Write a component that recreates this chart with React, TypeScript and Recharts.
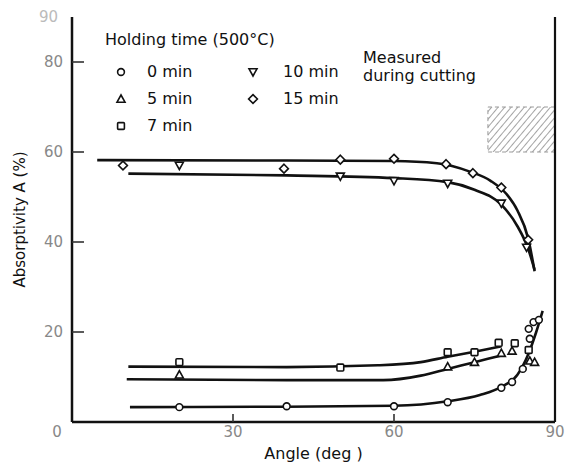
import React from 'react';
import { ComposedChart, Line, Scatter, XAxis, YAxis, ReferenceArea } from 'recharts';

// ---- data ----
const xTicks = [0, 30, 60, 90];
const yTicks = [20, 40, 60, 80, 90];
const xTickMarks = [30, 60];
const yTickMarks = [20, 40, 60, 80];

// fitted curves (angle, absorptivity)
const curve0 = [
  { x: 10.8, y: 3.3 }, { x: 40, y: 3.4 }, { x: 60, y: 3.6 }, { x: 70, y: 4.6 }, { x: 76, y: 6.0 },
  { x: 80, y: 7.8 }, { x: 83, y: 10.5 }, { x: 85, y: 15.0 }, { x: 86.5, y: 20.0 }, { x: 87.7, y: 24.7 },
];
const curve5 = [
  { x: 10.2, y: 9.5 }, { x: 40, y: 9.3 }, { x: 58, y: 9.3 }, { x: 65, y: 10.3 }, { x: 70, y: 11.8 },
  { x: 75, y: 13.3 }, { x: 80, y: 14.8 },
];
const curve7 = [
  { x: 10.5, y: 12.3 }, { x: 40, y: 12.2 }, { x: 57, y: 12.6 }, { x: 65, y: 13.3 }, { x: 70, y: 14.5 },
  { x: 75, y: 15.6 }, { x: 80, y: 16.8 },
];
const curve10 = [
  { x: 10.5, y: 55.2 }, { x: 40, y: 54.8 }, { x: 60, y: 54.2 }, { x: 70, y: 53.3 }, { x: 75, y: 51.6 },
  { x: 80, y: 48.3 }, { x: 83, y: 43.5 }, { x: 85, y: 38.5 }, { x: 86.2, y: 33.8 },
];
const curve15 = [
  { x: 4.7, y: 58.2 }, { x: 40, y: 58.1 }, { x: 60, y: 58.0 }, { x: 68, y: 57.5 }, { x: 74, y: 55.7 },
  { x: 78, y: 53.6 }, { x: 81, y: 50.6 }, { x: 83, y: 47.0 }, { x: 85, y: 40.8 }, { x: 86.2, y: 33.5 },
];

// measured points
const pts0 = [
  { x: 20, y: 3.3 }, { x: 40, y: 3.5 }, { x: 60, y: 3.5 }, { x: 70, y: 4.4 }, { x: 80, y: 7.6 },
  { x: 82, y: 8.9 }, { x: 84, y: 11.8 }, { x: 85.3, y: 18.5 }, { x: 85.1, y: 20.7 }, { x: 86, y: 22.2 },
  { x: 87, y: 22.7 },
];
const pts5 = [
  { x: 20, y: 10.5 }, { x: 70, y: 12.3 }, { x: 75, y: 13.3 }, { x: 80, y: 15.3 }, { x: 82, y: 15.8 },
  { x: 85.3, y: 13.6 }, { x: 86.2, y: 13.3 },
];
const pts7 = [
  { x: 20, y: 13.3 }, { x: 50, y: 12.1 }, { x: 70, y: 15.5 }, { x: 75, y: 15.5 }, { x: 79.5, y: 17.6 },
  { x: 82.5, y: 17.5 }, { x: 85.1, y: 16.0 },
];
const pts10 = [
  { x: 20, y: 57.0 }, { x: 50, y: 54.6 }, { x: 60, y: 53.6 }, { x: 70, y: 53.0 }, { x: 80, y: 48.6 },
  { x: 84.7, y: 38.8 },
];
const pts15 = [
  { x: 9.5, y: 57.0 }, { x: 39.5, y: 56.3 }, { x: 50, y: 58.3 }, { x: 60, y: 58.5 }, { x: 69.7, y: 57.3 },
  { x: 74.7, y: 55.3 }, { x: 80, y: 52.1 }, { x: 85, y: 40.5 },
];

// hatched "measured during cutting" region
const cutX = [77.5, 90];
const cutY = [60, 70];

const legendLeft = [
  { kind: 'circle', label: '0 min' },
  { kind: 'triangle', label: '5 min' },
  { kind: 'square', label: '7 min' },
];
const legendRight = [
  { kind: 'down', label: '10 min' },
  { kind: 'diamond', label: '15 min' },
];

// ---- drawing helpers ----
const FONT = '"DejaVu Sans", "Liberation Sans", sans-serif';

function markerPath(kind: string, cx: number, cy: number, s: number) {
  const st = { fill: '#fff', stroke: '#111', strokeWidth: 1.6 };
  switch (kind) {
    case 'circle':
      return <circle cx={cx} cy={cy} r={s * 0.85} {...st} />;
    case 'triangle':
      return <polygon points={`${cx},${cy - s} ${cx + s},${cy + s * 0.8} ${cx - s},${cy + s * 0.8}`} {...st} />;
    case 'down':
      return <polygon points={`${cx - s},${cy - s * 0.8} ${cx + s},${cy - s * 0.8} ${cx},${cy + s}`} {...st} />;
    case 'square':
      return <rect x={cx - s * 0.85} y={cy - s * 0.85} width={s * 1.7} height={s * 1.7} rx={1} {...st} />;
    case 'diamond':
      return <polygon points={`${cx},${cy - s * 1.1} ${cx + s * 1.1},${cy} ${cx},${cy + s * 1.1} ${cx - s * 1.1},${cy}`} {...st} />;
    default:
      return null;
  }
}

const makeShape = (kind: string) => (props: any) => {
  if (props == null || props.cx == null || props.cy == null) return <g />;
  return <g>{markerPath(kind, props.cx, props.cy, 4)}</g>;
};

// inward tick glyphs, placed by the library's scales
const yTickShape = (props: any) => {
  if (props == null || props.cx == null || props.cy == null) return <g />;
  return <rect x={props.cx} y={props.cy - 0.8} width={12} height={1.6} fill="#333" />;
};
const xTickShape = (props: any) => {
  if (props == null || props.cx == null || props.cy == null) return <g />;
  return <rect x={props.cx - 0.8} y={props.cy - 8} width={1.6} height={8} fill="#333" />;
};

const renderXTick = (props: any) => {
  const { x, y, payload } = props;
  const v = payload.value;
  const dx = v === 0 ? -15 : 0;
  return (
    <text key={`xt-${v}`} x={x + dx} y={y + 15} textAnchor="middle" fontSize={15} fill="#888" fontFamily={FONT}>{v}</text>
  );
};

const renderYTick = (props: any) => {
  const { x, y, payload } = props;
  const v = payload.value;
  return (
    <text key={`yt-${v}`} x={v === 90 ? x - 5 : x} y={y + 5} textAnchor="end" fontSize={15} fill={v === 90 ? '#bbb' : '#888'} fontFamily={FONT}>{v}</text>
  );
};

const LegendIcon = ({ kind }: { kind: string }) => (
  <svg width={14} height={14} style={{ display: 'block' }}>
    {markerPath(kind, 7, 7, 4)}
  </svg>
);

export default function App() {
  const lineProps = {
    type: 'monotone' as const,
    dataKey: 'y',
    stroke: '#111',
    strokeWidth: 2.6,
    dot: false,
    activeDot: false,
    isAnimationActive: false,
    legendType: 'none' as const,
  };
  const textStyle: React.CSSProperties = {
    position: 'absolute',
    fontFamily: FONT,
    fontSize: 16,
    color: '#111',
    whiteSpace: 'nowrap',
    lineHeight: '18px',
  };
  const yTickPts = yTickMarks.map((v) => ({ x: 0, y: v }));
  const xTickPts = xTickMarks.map((v) => ({ x: v, y: 0 }));
  return (
    <div style={{ position: 'absolute', left: 0, top: 0, width: 569, height: 463, background: '#fff' }}>
      <ComposedChart width={569} height={463} margin={{ top: 17, right: 0, bottom: 0, left: 0 }}>
        <defs>
          <pattern id="hatch" patternUnits="userSpaceOnUse" width={5} height={5} patternTransform="rotate(40)">
            <line x1={0} y1={0} x2={0} y2={5} stroke="#666" strokeWidth={1.2} />
          </pattern>
        </defs>
        <XAxis
          type="number"
          dataKey="x"
          domain={[0, 90]}
          ticks={xTicks}
          height={41}
          tickSize={0}
          tickMargin={0}
          tickLine={false}
          axisLine={{ stroke: '#111', strokeWidth: 2.5 }}
          tick={renderXTick}
          label={{ value: 'Angle (deg )', position: 'insideBottom', offset: 4, fontSize: 16, fill: '#111', fontFamily: FONT }}
        />
        <XAxis xAxisId="top" orientation="top" type="number" domain={[0, 90]} height={0} tick={false} tickLine={false} axisLine={{ stroke: '#111', strokeWidth: 2.2 }} />
        <YAxis
          type="number"
          dataKey="y"
          domain={[0, 90]}
          ticks={yTicks}
          width={72}
          tickSize={0}
          tickMargin={9}
          tickLine={false}
          axisLine={{ stroke: '#111', strokeWidth: 2.5 }}
          tick={renderYTick}
          label={{ value: 'Absorptivity  A  (%)', angle: -90, position: 'insideLeft', offset: 20, fontSize: 15, fill: '#111', fontFamily: FONT, style: { textAnchor: 'middle' } }}
        />
        <YAxis yAxisId="right" orientation="right" type="number" domain={[0, 90]} width={14} tick={false} tickLine={false} axisLine={{ stroke: '#111', strokeWidth: 2.2 }} />
        <ReferenceArea x1={cutX[0]} x2={cutX[1]} y1={cutY[0]} y2={cutY[1]} fill="url(#hatch)" fillOpacity={1} stroke="#999" strokeDasharray="4 3" strokeWidth={1} />
        <Line data={curve15} {...lineProps} />
        <Line data={curve10} {...lineProps} />
        <Line data={curve7} {...lineProps} />
        <Line data={curve5} {...lineProps} />
        <Line data={curve0} {...lineProps} />
        <Scatter data={yTickPts} shape={yTickShape} isAnimationActive={false} legendType="none" />
        <Scatter data={xTickPts} shape={xTickShape} isAnimationActive={false} legendType="none" />
        <Scatter data={pts15} shape={makeShape('diamond')} isAnimationActive={false} />
        <Scatter data={pts10} shape={makeShape('down')} isAnimationActive={false} />
        <Scatter data={pts7} shape={makeShape('square')} isAnimationActive={false} />
        <Scatter data={pts5} shape={makeShape('triangle')} isAnimationActive={false} />
        <Scatter data={pts0} shape={makeShape('circle')} isAnimationActive={false} />
      </ComposedChart>

      <div style={{ ...textStyle, left: 105, top: 31 }}>Holding time (500°C)</div>
      {legendLeft.map((it, i) => (
        <div key={it.label} style={{ ...textStyle, left: 114, top: 63 + i * 27, display: 'flex', alignItems: 'center' }}>
          <LegendIcon kind={it.kind} />
          <span style={{ marginLeft: 19 }}>{it.label}</span>
        </div>
      ))}
      {legendRight.map((it, i) => (
        <div key={it.label} style={{ ...textStyle, left: 246, top: 63 + i * 27, display: 'flex', alignItems: 'center' }}>
          <LegendIcon kind={it.kind} />
          <span style={{ marginLeft: 23 }}>{it.label}</span>
        </div>
      ))}
      <div style={{ ...textStyle, left: 363, top: 49 }}>Measured</div>
      <div style={{ ...textStyle, left: 363, top: 67 }}>during cutting</div>
    </div>
  );
}
